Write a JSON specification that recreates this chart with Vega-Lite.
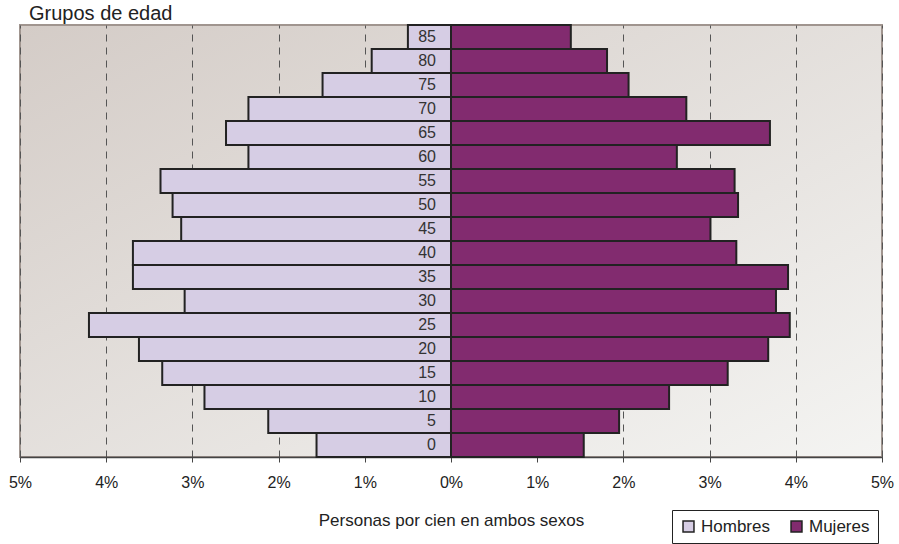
{
  "$schema": "https://vega.github.io/schema/vega-lite/v6.json",
  "width": 862,
  "height": 432,
  "autosize": {"type": "none"},
  "padding": {"left": 20, "top": 25, "right": 17, "bottom": 87},
  "background": "white",
  "title": {
    "text": "Grupos de edad",
    "anchor": "start",
    "orient": "top",
    "font": "Liberation Sans",
    "fontSize": 20,
    "fontWeight": "normal",
    "color": "#222",
    "offset": 0,
    "dx": 9,
    "frame": "group"
  },
  "config": {
    "view": {
      "fill": {"gradient": "linear", "x1": 0, "y1": 0, "x2": 1, "y2": 1, "stops": [{"offset": 0, "color": "#d4ccc7"}, {"offset": 1, "color": "#f4f4f2"}]},
      "stroke": "#a0958f",
      "strokeWidth": 2
    },
    "font": "Liberation Sans"
  },
  "data": {
    "values": [
      {"edad": 85, "sexo": "Hombres", "porcentaje": 0.50},
      {"edad": 80, "sexo": "Hombres", "porcentaje": 0.92},
      {"edad": 75, "sexo": "Hombres", "porcentaje": 1.49},
      {"edad": 70, "sexo": "Hombres", "porcentaje": 2.35},
      {"edad": 65, "sexo": "Hombres", "porcentaje": 2.61},
      {"edad": 60, "sexo": "Hombres", "porcentaje": 2.35},
      {"edad": 55, "sexo": "Hombres", "porcentaje": 3.37},
      {"edad": 50, "sexo": "Hombres", "porcentaje": 3.23},
      {"edad": 45, "sexo": "Hombres", "porcentaje": 3.13},
      {"edad": 40, "sexo": "Hombres", "porcentaje": 3.69},
      {"edad": 35, "sexo": "Hombres", "porcentaje": 3.69},
      {"edad": 30, "sexo": "Hombres", "porcentaje": 3.09},
      {"edad": 25, "sexo": "Hombres", "porcentaje": 4.20},
      {"edad": 20, "sexo": "Hombres", "porcentaje": 3.62},
      {"edad": 15, "sexo": "Hombres", "porcentaje": 3.35},
      {"edad": 10, "sexo": "Hombres", "porcentaje": 2.86},
      {"edad": 5, "sexo": "Hombres", "porcentaje": 2.12},
      {"edad": 0, "sexo": "Hombres", "porcentaje": 1.56},
      {"edad": 85, "sexo": "Mujeres", "porcentaje": 1.39},
      {"edad": 80, "sexo": "Mujeres", "porcentaje": 1.81},
      {"edad": 75, "sexo": "Mujeres", "porcentaje": 2.06},
      {"edad": 70, "sexo": "Mujeres", "porcentaje": 2.73},
      {"edad": 65, "sexo": "Mujeres", "porcentaje": 3.70},
      {"edad": 60, "sexo": "Mujeres", "porcentaje": 2.62},
      {"edad": 55, "sexo": "Mujeres", "porcentaje": 3.29},
      {"edad": 50, "sexo": "Mujeres", "porcentaje": 3.33},
      {"edad": 45, "sexo": "Mujeres", "porcentaje": 3.01},
      {"edad": 40, "sexo": "Mujeres", "porcentaje": 3.31},
      {"edad": 35, "sexo": "Mujeres", "porcentaje": 3.91},
      {"edad": 30, "sexo": "Mujeres", "porcentaje": 3.77},
      {"edad": 25, "sexo": "Mujeres", "porcentaje": 3.93},
      {"edad": 20, "sexo": "Mujeres", "porcentaje": 3.68},
      {"edad": 15, "sexo": "Mujeres", "porcentaje": 3.21},
      {"edad": 10, "sexo": "Mujeres", "porcentaje": 2.53},
      {"edad": 5, "sexo": "Mujeres", "porcentaje": 1.95},
      {"edad": 0, "sexo": "Mujeres", "porcentaje": 1.54}
    ]
  },
  "transform": [
    {"calculate": "datum.sexo === 'Hombres' ? -datum.porcentaje : datum.porcentaje", "as": "valor"}
  ],
  "encoding": {
    "y": {
      "field": "edad",
      "type": "ordinal",
      "sort": "descending",
      "scale": {"paddingInner": 0, "paddingOuter": 0},
      "axis": null
    }
  },
  "layer": [
    {
      "mark": {"type": "bar", "stroke": "#222", "strokeWidth": 2},
      "encoding": {
        "x": {
          "field": "valor",
          "type": "quantitative",
          "scale": {"domain": [-5, 5], "nice": false, "zero": true},
          "axis": {
            "values": [-5, -4, -3, -2, -1, 0, 1, 2, 3, 4, 5],
            "labelExpr": "abs(datum.value) + '%'",
            "title": "Personas por cien en ambos sexos",
            "titleFont": "Liberation Sans",
            "titleFontSize": 17,
            "titleFontWeight": "normal",
            "titleColor": "#222",
            "titlePadding": 22,
            "labelFont": "Liberation Sans",
            "labelFontSize": 16,
            "labelColor": "#222",
            "labelPadding": 12,
            "labelFlush": false,
            "tickSize": 5,
            "tickColor": "#444",
            "domainColor": "#444",
            "domainWidth": 1.5,
            "grid": true,
            "gridDash": [7, 6],
            "gridColor": "#555",
            "gridWidth": 1
          }
        },
        "color": {
          "field": "sexo",
          "type": "nominal",
          "scale": {"domain": ["Hombres", "Mujeres"], "range": ["#d6cde4", "#822b6f"]},
          "legend": {
            "title": null,
            "orient": "none",
            "legendX": 652,
            "legendY": 485,
            "direction": "horizontal",
            "strokeColor": "#222",
            "fillColor": "white",
            "padding": 8,
            "symbolType": "square",
            "symbolSize": 120,
            "symbolStrokeColor": "#222",
            "symbolStrokeWidth": 1.5,
            "symbolOpacity": 1,
            "labelFont": "Liberation Sans",
            "labelFontSize": 17,
            "labelColor": "#222",
            "labelOffset": 4,
            "columnPadding": 18
          }
        }
      }
    },
    {
      "transform": [{"filter": "datum.sexo === 'Hombres'"}],
      "mark": {"type": "text", "align": "right", "baseline": "middle", "dx": -15, "fontSize": 16, "font": "Liberation Sans", "color": "#333"},
      "encoding": {
        "x": {"datum": 0, "type": "quantitative"},
        "text": {"field": "edad", "type": "nominal"}
      }
    }
  ]
}
